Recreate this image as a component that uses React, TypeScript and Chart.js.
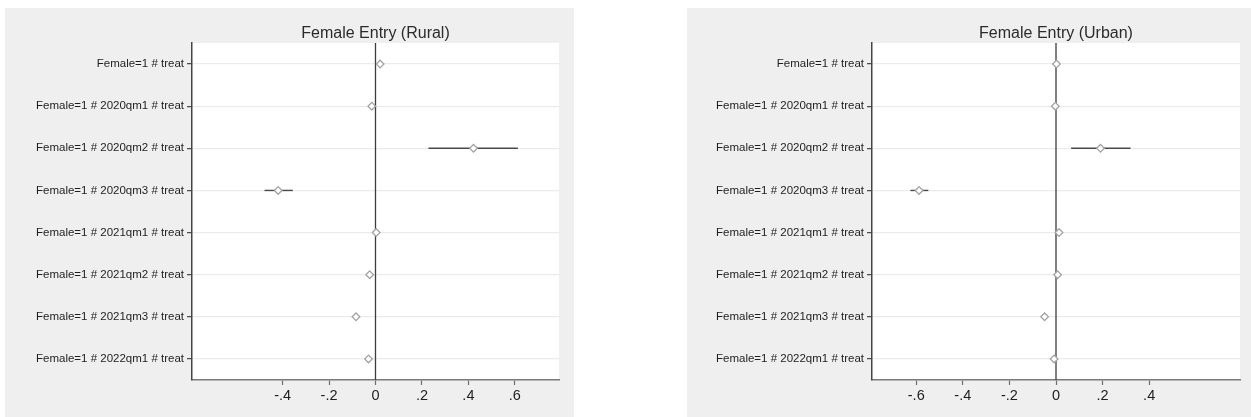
import React, { useEffect, useRef } from 'react';
import { Chart, registerables } from 'chart.js';

Chart.register(...registerables);
Chart.defaults.font.family = '"Liberation Sans", Arial, Helvetica, sans-serif';

const rowLabels = [
  'Female=1 # treat',
  'Female=1 # 2020qm1 # treat',
  'Female=1 # 2020qm2 # treat',
  'Female=1 # 2020qm3 # treat',
  'Female=1 # 2021qm1 # treat',
  'Female=1 # 2021qm2 # treat',
  'Female=1 # 2021qm3 # treat',
  'Female=1 # 2022qm1 # treat',
];
const rowIndex = [1, 2, 3, 4, 5, 6, 7, 8];

const ruralCoef = [0.02, -0.016, 0.422, -0.419, 0.003, -0.025, -0.084, -0.03];
const ruralLow = [0.012, -0.024, 0.228, -0.478, -0.006, -0.034, -0.093, -0.039];
const ruralHigh = [0.028, -0.008, 0.613, -0.356, 0.012, -0.016, -0.075, -0.021];

const urbanCoef = [0.002, -0.003, 0.191, -0.588, 0.013, 0.007, -0.049, -0.008];
const urbanLow = [-0.005, -0.01, 0.065, -0.625, 0.006, 0.0, -0.056, -0.015];
const urbanHigh = [0.009, 0.004, 0.32, -0.548, 0.02, 0.014, -0.042, -0.001];

const ruralTicks = [-0.4, -0.2, 0, 0.2, 0.4, 0.6];
const urbanTicks = [-0.6, -0.4, -0.2, 0, 0.2, 0.4];

const xMin = -0.79;
const xMax = 0.79;

function fmtTick(v: number): string {
  if (Math.abs(v) < 1e-9) return '0';
  const s = Math.abs(v).toFixed(1).replace(/^0/, '');
  return (v < 0 ? '-' : '') + s;
}

const bgPlugin = {
  id: 'plotBg',
  beforeDraw(chart: any) {
    const { ctx, chartArea: a } = chart;
    ctx.save();
    ctx.fillStyle = '#efefef';
    ctx.fillRect(0, 0, chart.width, chart.height);
    ctx.fillStyle = '#ffffff';
    ctx.fillRect(a.left, a.top, a.right - a.left, a.bottom - a.top);
    ctx.restore();
  },
};

type PanelProps = {
  title: string;
  coef: number[];
  low: number[];
  high: number[];
  ticks: number[];
  width: number;
  height: number;
  yWidth: number;
  padRight: number;
  left: number;
  top: number;
};

function Panel(p: PanelProps) {
  const ref = useRef<HTMLCanvasElement | null>(null);
  useEffect(() => {
    if (!ref.current) return;
    const datasets: any[] = [
      {
        data: [
          { x: 0, y: 0.5 },
          { x: 0, y: 8.5 },
        ],
        showLine: true,
        borderColor: '#3c3c3c',
        borderWidth: 1.3,
        pointRadius: 0,
        order: 3,
      },
      ...rowIndex.map((r, i) => ({
        data: [
          { x: p.low[i], y: r },
          { x: p.high[i], y: r },
        ],
        showLine: true,
        borderColor: '#4a4a4a',
        borderWidth: 1.4,
        pointRadius: 0,
        order: 2,
      })),
      {
        data: rowIndex.map((r, i) => ({ x: p.coef[i], y: r })),
        showLine: false,
        pointStyle: 'rectRot',
        pointRadius: 3.8,
        pointBorderWidth: 1.3,
        pointBorderColor: '#a3a3a3',
        pointBackgroundColor: '#ffffff',
        order: 1,
      },
    ];
    const chart = new Chart(ref.current, {
      type: 'scatter',
      data: { datasets },
      plugins: [bgPlugin],
      options: {
        responsive: false,
        animation: false,
        devicePixelRatio: 1,
        layout: { padding: { left: 0, right: p.padRight, top: 0, bottom: 0 } },
        plugins: {
          legend: { display: false },
          tooltip: { enabled: false },
          title: {
            display: true,
            text: p.title,
            fullSize: false,
            color: '#2b2b2b',
            font: { size: 16, weight: 'normal', lineHeight: 1.125 },
            padding: { top: 17, bottom: 0 },
          },
        },
        scales: {
          x: {
            type: 'linear',
            min: xMin,
            max: xMax,
            afterBuildTicks: (s: any) => {
              s.ticks = p.ticks.map((v) => ({ value: v }));
            },
            afterFit: (s: any) => {
              s.height = 37;
            },
            ticks: {
              autoSkip: false,
              maxRotation: 0,
              padding: 2,
              color: '#1e1e1e',
              font: { size: 14.5 },
              callback: (v: any) => fmtTick(Number(v)),
            },
            grid: {
              drawOnChartArea: false,
              drawTicks: true,
              tickLength: 5,
              tickColor: '#6e6e6e',
              tickWidth: 1.2,
            },
            border: { display: true, color: '#7a7a7a', width: 1.6 },
          },
          y: {
            type: 'linear',
            reverse: true,
            min: 0.5,
            max: 8.5,
            afterBuildTicks: (s: any) => {
              s.ticks = rowIndex.map((v) => ({ value: v }));
            },
            afterFit: (s: any) => {
              s.width = p.yWidth;
            },
            ticks: {
              autoSkip: false,
              padding: 3,
              color: '#1e1e1e',
              font: { size: 11.5 },
              callback: (v: any) => rowLabels[Number(v) - 1] ?? '',
            },
            grid: {
              color: '#ebebeb',
              lineWidth: 1.3,
              tickColor: '#444444',
              tickLength: 5,
              tickWidth: 1.2,
            },
            border: { display: true, color: '#444444', width: 1.5 },
          },
        },
      } as any,
    });
    return () => chart.destroy();
  }, []);
  return (
    <div
      style={{
        position: 'absolute',
        left: p.left,
        top: p.top,
        width: p.width,
        height: p.height,
        background: '#efefef',
      }}
    >
      <canvas
        ref={ref}
        width={p.width}
        height={p.height}
        style={{ width: p.width, height: p.height, display: 'block' }}
      />
    </div>
  );
}

export default function App() {
  return (
    <div
      style={{
        position: 'fixed',
        left: 0,
        top: 0,
        width: 1251,
        height: 417,
        background: '#ffffff',
        overflow: 'hidden',
      }}
    >
      <Panel
        title="Female Entry (Rural)"
        coef={ruralCoef}
        low={ruralLow}
        high={ruralHigh}
        ticks={ruralTicks}
        left={5}
        top={8}
        width={569}
        height={409}
        yWidth={187}
        padRight={15}
      />
      <Panel
        title="Female Entry (Urban)"
        coef={urbanCoef}
        low={urbanLow}
        high={urbanHigh}
        ticks={urbanTicks}
        left={687}
        top={8}
        width={564}
        height={409}
        yWidth={185}
        padRight={11}
      />
    </div>
  );
}
